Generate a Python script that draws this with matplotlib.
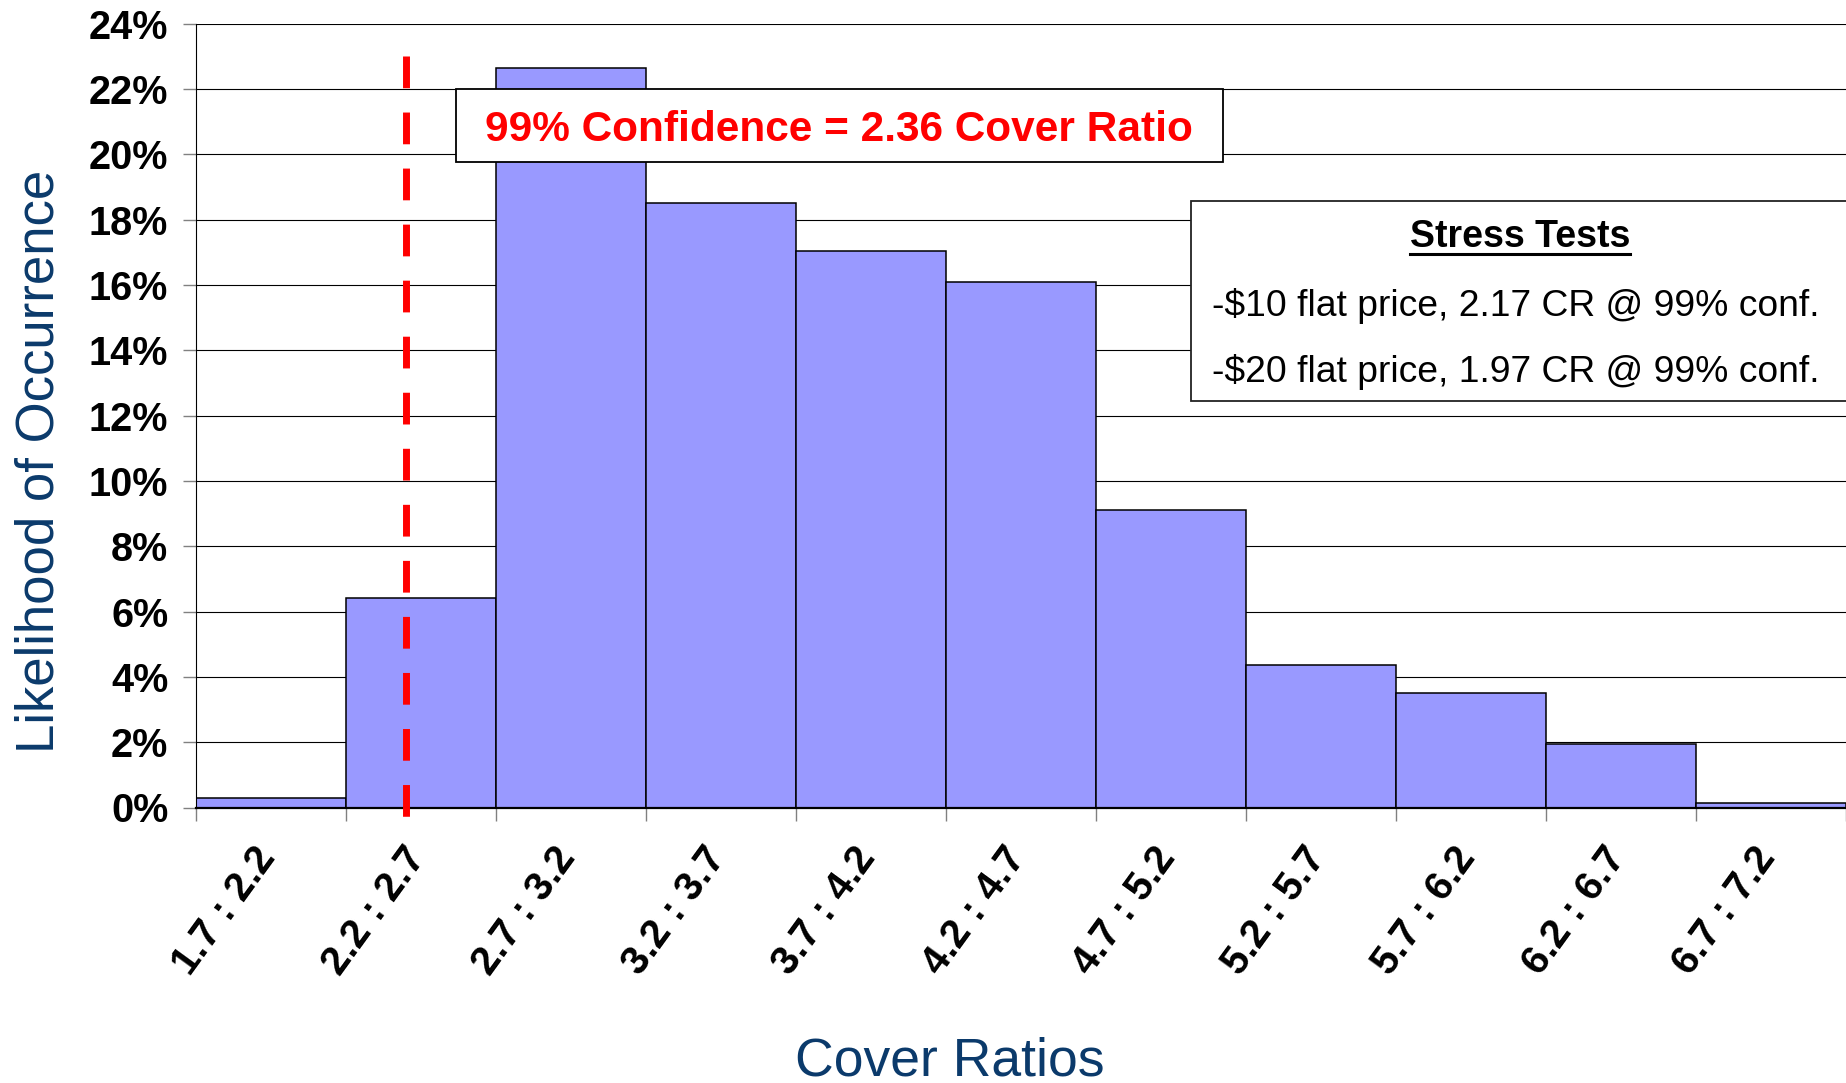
import matplotlib.pyplot as plt
import matplotlib.ticker as mtick
import matplotlib.transforms as mtrans
from matplotlib.patches import Rectangle
from matplotlib.lines import Line2D

plt.rcParams['font.family'] = ['Liberation Sans', 'DejaVu Sans']

# dane - przedzialy cover ratio i prawdopodobienstwo (%)
bin_lo = [1.7, 2.2, 2.7, 3.2, 3.7, 4.2, 4.7, 5.2, 5.7, 6.2, 6.7]
bin_labels = ["1.7 : 2.2", "2.2 : 2.7", "2.7 : 3.2", "3.2 : 3.7", "3.7 : 4.2",
              "4.2 : 4.7", "4.7 : 5.2", "5.2 : 5.7", "5.7 : 6.2", "6.2 : 6.7",
              "6.7 : 7.2"]
likelihood = [0.3, 6.4, 22.65, 18.5, 17.05, 16.1, 9.1, 4.35, 3.5, 1.93, 0.13]
bin_w = 0.5

conf_x = 2.4
conf_text = "99% Confidence = 2.36 Cover Ratio"
stress_title = "Stress Tests"
stress_lines = ["-\\$10 flat price, 2.17 CR @ 99% conf.",
                "-\\$20 flat price, 1.97 CR @ 99% conf."]

navy = '#0b3a6b'

W, H = 1846, 1083
def fx(px):
    return px / W
def fy(py):
    return 1 - py / H

fig = plt.figure(figsize=(W / 100, H / 100), dpi=100)
ax = fig.add_axes([fx(196.3), fy(807.5), fx(W - 196.3), (807.5 - 23.7) / H])

ax.bar(bin_lo, likelihood, width=bin_w, align='edge', color='#9999ff',
       edgecolor='black', linewidth=1.1, zorder=2)

# os x siega za prawa krawedz rysunku
ax.set_xlim(1.7, 1.7 + (W - 196.3) / 150.5 * bin_w)
ax.set_ylim(0, 24)
ax.set_yticks(range(0, 25, 2))
ax.yaxis.set_major_formatter(mtick.PercentFormatter(xmax=100, decimals=0))
ax.yaxis.grid(True, color='black', linewidth=0.8)
ax.set_axisbelow(True)

centres = [b + bin_w / 2 for b in bin_lo]
ax.set_xticks(centres)
ax.set_xticklabels(bin_labels, rotation=54, ha='right', va='top',
                   rotation_mode='anchor', fontsize=29, fontweight='bold')
ax.set_xticks(bin_lo + [7.2], minor=True)
ax.tick_params(axis='x', which='major', length=0, pad=23.5)
ax.tick_params(axis='x', which='minor', length=9.4, width=1, color='#808080')
ax.tick_params(axis='y', length=9.4, width=1, color='#808080', pad=10.8,
               labelsize=28.5)
for t in ax.get_yticklabels():
    t.set_fontweight('bold')
# przesuniecie etykiet w lewo
shift = mtrans.ScaledTranslation(-0.19, 0, fig.dpi_scale_trans)
for t in ax.get_xticklabels():
    t.set_transform(t.get_transform() + shift)

for s in ['top', 'right']:
    ax.spines[s].set_visible(False)
ax.spines['left'].set_linewidth(0.8)
ax.spines['bottom'].set_linewidth(1.6)

# linia 99%
ax.plot([conf_x, conf_x], [23.0, -0.3], color='red', linewidth=5,
        dashes=(4.57, 3.5), clip_on=False, zorder=3)

# ramka z poziomem ufnosci
fig.add_artist(Rectangle((fx(455.6), fy(161.5)), fx(1223 - 455.6), (161.5 - 89.5) / H,
                         transform=fig.transFigure, facecolor='white',
                         edgecolor='black', linewidth=1.3, zorder=5))
fig.text(fx(839), fy(141), conf_text, color='red', fontsize=30.5,
         fontweight='bold', ha='center', va='baseline', zorder=6)

# ramka stress tests
fig.add_artist(Rectangle((fx(1191), fy(401.2)), fx(1860 - 1191), (401.2 - 200.7) / H,
                         transform=fig.transFigure, facecolor='white',
                         edgecolor='#222222', linewidth=1.3, zorder=5))
st = fig.text(fx(1520), fy(246.7), stress_title, fontsize=27, fontweight='bold',
              ha='center', va='baseline', zorder=6)
fig.text(fx(1212), fy(316), stress_lines[0], fontsize=26.8, ha='left',
         va='baseline', zorder=6)
fig.text(fx(1212), fy(382), stress_lines[1], fontsize=26.8, ha='left',
         va='baseline', zorder=6)

# podkreslenie tytulu
fig.canvas.draw()
bb = st.get_window_extent(fig.canvas.get_renderer())
fig.add_artist(Line2D([bb.x0 / W, bb.x1 / W], [fy(253.5), fy(253.5)],
                      transform=fig.transFigure, color='black', linewidth=2.2,
                      zorder=6))

fig.text(fx(39.4), fy(461), "Likelihood of Occurrence", rotation=90,
         ha='center', va='center', fontsize=38, color=navy)
fig.text(fx(950), fy(1075), "Cover Ratios", ha='center', va='baseline',
         fontsize=38.5, color=navy)

fig.savefig('out.png', dpi=100)
